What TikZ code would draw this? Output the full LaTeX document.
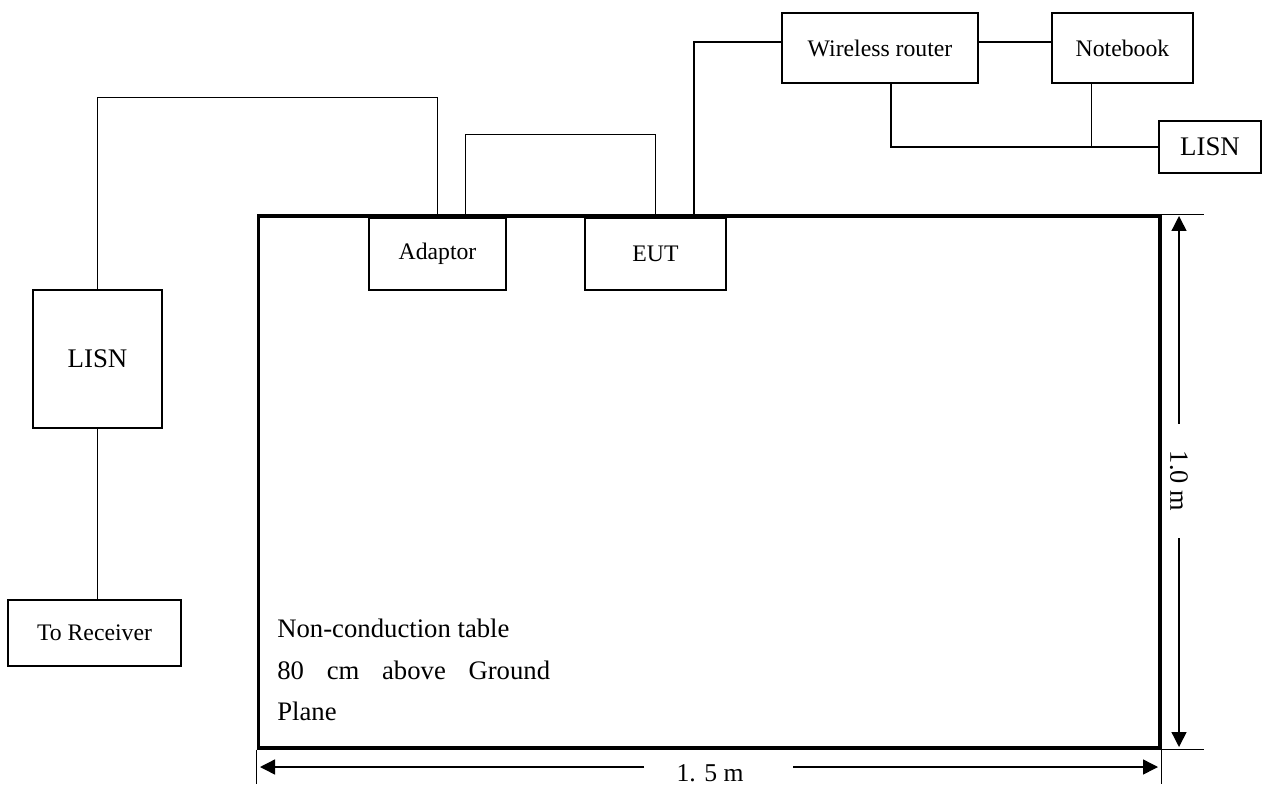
\documentclass[tikz,border=0pt]{standalone}
\usepackage{fontspec}
\setmainfont{Liberation Serif}
\usetikzlibrary{arrows.meta}

\begin{document}
\begin{tikzpicture}[x=0.02cm, y=-0.02cm,
    box/.style={draw, line width=0.8pt, inner sep=0pt, font=\fontsize{13.5}{16}\selectfont},
    bigbox/.style={box, font=\fontsize{15.3}{18}\selectfont},
    wire/.style={line width=0.8pt},
    dimline/.style={line width=0.8pt, -{Triangle[length=0.3cm, width=0.3cm]}},
    tick/.style={line width=0.6pt}]
  \useasboundingbox (0,0) rectangle (1263,784);
  % table
  \node[draw, line width=1.8pt, minimum width=18.04cm, minimum height=10.64cm] (table) at (709,482) {};
  \node[anchor=north west, inner sep=0pt, align=left, font=\fontsize{15.2}{23.5}\selectfont] (tablenote) at (277,619)
    {Non-conduction table\\80\hspace{0.85em}cm\hspace{0.85em}above\hspace{0.85em}Ground\\Plane};
  % equipment
  \node[box, minimum width=2.74cm, minimum height=1.44cm] (adaptor) at (437.5,254) {Adaptor};
  \node[box, minimum width=2.82cm, minimum height=1.44cm] (eut) at (655.5,254) {EUT};
  \node[bigbox, minimum width=2.58cm, minimum height=2.76cm] (lisnL) at (97.5,359) {LISN};
  \node[box, minimum width=3.46cm, minimum height=1.32cm] (receiver) at (94.5,633) {To Receiver};
  \node[box, minimum width=3.92cm, minimum height=1.4cm] (router) at (880,48) {Wireless router};
  \node[box, minimum width=2.82cm, minimum height=1.4cm] (notebook) at (1122.5,48) {Notebook};
  \node[bigbox, minimum width=2.04cm, minimum height=1.04cm] (lisnR) at (1210,147) {LISN};
  % cables
  \draw[wire] (lisnL.north) -- ++(0,-192) -| (adaptor.north);
  \draw[wire] ([xshift=0.56cm]adaptor.north) -- ++(0,-83) -| (eut.north);
  \draw[wire] ([xshift=0.77cm]eut.north) |- ([yshift=0.12cm]router.west);
  \draw[wire] ([yshift=0.12cm]router.east) -- ([yshift=0.12cm]notebook.west);
  \draw[wire] ([xshift=0.22cm]router.south) |- (lisnR.west);
  \draw[wire] ([xshift=-0.62cm]notebook.south) -- ([xshift=-0.62cm]notebook.south |- lisnR.west);
  \draw[wire] (lisnL.south) -- (lisnL.south |- receiver.north);
  % dimensions
  \draw[tick] (table.north east) -- ++(42,0);
  \draw[tick] (table.south east) -- ++(42,0);
  \draw[tick] (table.south west) -- ++(0,34);
  \draw[tick] (table.south east) -- ++(0,34);
  \coordinate (vtop) at (1179,216);
  \coordinate (vbot) at (1179,747);
  \node[rotate=-90, inner xsep=0.54cm, inner ysep=0pt, font=\fontsize{15}{18}\selectfont] (vlabel) at (1179,481) {1.0 m};
  \draw[dimline] (vlabel.west) -- (vtop);
  \draw[dimline] (vlabel.east) -- (vbot);
  \coordinate (hleft) at (260,767);
  \coordinate (hright) at (1158,767);
  \coordinate (hgapL) at (644,767);
  \coordinate (hgapR) at (793,767);
  \draw[dimline] (hgapL) -- (hleft);
  \draw[dimline] (hgapR) -- (hright);
  \node[anchor=base, inner sep=0pt, font=\fontsize{14.6}{18}\selectfont] (hlabel) at (710,781) {1. 5 m};
\end{tikzpicture}
\end{document}
